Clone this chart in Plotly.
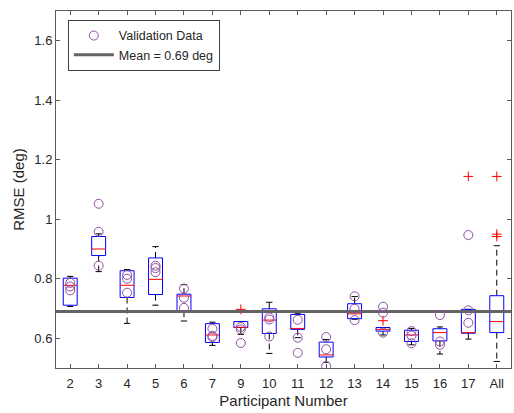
import plotly.graph_objects as go

labels = ["2", "3", "4", "5", "6", "7", "9", "10", "11", "12", "13", "14", "15", "16", "17", "All"]
q1 = [0.711, 0.878, 0.737, 0.747, 0.691, 0.586, 0.636, 0.616, 0.630, 0.537, 0.666, 0.624, 0.589, 0.591, 0.617, 0.619]
median = [0.778, 0.900, 0.778, 0.798, 0.742, 0.611, 0.637, 0.661, 0.633, 0.544, 0.682, 0.630, 0.611, 0.619, 0.619, 0.656]
q3 = [0.802, 0.942, 0.827, 0.870, 0.748, 0.649, 0.656, 0.699, 0.680, 0.587, 0.716, 0.636, 0.627, 0.632, 0.697, 0.743]
whisker_hi = [0.808, 0.951, 0.831, 0.908, 0.780, 0.654, 0.656, 0.721, 0.684, 0.596, 0.740, 0.636, 0.633, 0.638, 0.697, 0.911]
whisker_lo = [0.707, 0.824, 0.650, 0.711, 0.658, 0.576, 0.613, 0.549, 0.602, 0.519, 0.664, 0.611, 0.578, 0.547, 0.597, 0.522]
outliers = {"9": [0.697], "14": [0.659], "17": [1.144], "All": [1.144, 0.950, 0.942]}
validation = {
    "2": [0.786, 0.774, 0.761],
    "3": [1.052, 0.958, 0.844],
    "4": [0.813, 0.800, 0.753],
    "5": [0.844, 0.836, 0.822],
    "6": [0.767, 0.736, 0.702],
    "7": [0.632, 0.608, 0.604],
    "9": [0.638, 0.630, 0.584],
    "10": [0.670, 0.663, 0.606],
    "11": [0.662, 0.602, 0.551],
    "12": [0.604, 0.563, 0.506],
    "13": [0.741, 0.699, 0.661],
    "14": [0.706, 0.686, 0.619],
    "15": [0.624, 0.609, 0.583],
    "16": [0.678, 0.589, 0.578],
    "17": [0.947, 0.694, 0.652],
}
mean_value = 0.69

BW = 0.245
CW = 0.11
pos = list(range(1, len(labels) + 1))

bx, by, mx, my, wx, wy, cx, cy = [], [], [], [], [], [], [], []
for i, p in enumerate(pos):
    bx += [p - BW, p + BW, p + BW, p - BW, p - BW, None]
    by += [q1[i], q1[i], q3[i], q3[i], q1[i], None]
    mx += [p - BW, p + BW, None]
    my += [median[i], median[i], None]
    wx += [p, p, None, p, p, None]
    wy += [q3[i], whisker_hi[i], None, q1[i], whisker_lo[i], None]
    cx += [p - CW, p + CW, None, p - CW, p + CW, None]
    cy += [whisker_hi[i], whisker_hi[i], None, whisker_lo[i], whisker_lo[i], None]

ox, oy = [], []
for k, vals in outliers.items():
    p = pos[labels.index(k)]
    ox += [p] * len(vals)
    oy += vals

vx, vy = [], []
for k, vals in validation.items():
    p = pos[labels.index(k)]
    vx += [p] * len(vals)
    vy += vals

fig = go.Figure()
fig.add_trace(go.Scatter(x=wx, y=wy, mode="lines", line=dict(color="black", width=1, dash="6px,4px"),
                         showlegend=False, hoverinfo="skip"))
fig.add_trace(go.Scatter(x=cx, y=cy, mode="lines", line=dict(color="black", width=1),
                         showlegend=False, hoverinfo="skip"))
fig.add_trace(go.Scatter(x=bx, y=by, mode="lines", line=dict(color="#0000FF", width=1),
                         showlegend=False, hoverinfo="skip"))
fig.add_trace(go.Scatter(x=mx, y=my, mode="lines", line=dict(color="#FF0000", width=1),
                         showlegend=False, hoverinfo="skip"))
fig.add_trace(go.Scatter(x=ox, y=oy, mode="markers",
                         marker=dict(symbol="cross-thin", size=7, line=dict(color="#FF0000", width=1)),
                         showlegend=False, hoverinfo="skip"))
xr = [0.5, len(labels) + 0.5]
fig.add_trace(go.Scatter(x=xr, y=[mean_value, mean_value], mode="lines",
                         line=dict(color="#646464", width=3),
                         name="Mean = %.2f deg" % mean_value, legendrank=2))
fig.add_trace(go.Scatter(x=vx, y=vy, mode="markers",
                         marker=dict(symbol="circle-open", size=9, color="#9050A0", line=dict(width=1)),
                         name="Validation Data", legendrank=1))

axis_common = dict(showline=True, linecolor="#5a5a5a", linewidth=1, mirror="ticks", ticks="inside",
                   ticklen=4, tickcolor="#5a5a5a", showgrid=False, zeroline=False,
                   tickfont=dict(family="Liberation Sans", size=13, color="#262626"))
fig.update_layout(
    width=514, height=413,
    margin=dict(l=56, r=3, t=11, b=45),
    paper_bgcolor="white", plot_bgcolor="white",
    font=dict(family="Liberation Sans", size=12, color="#262626"),
    xaxis=dict(range=xr, tickvals=pos, ticktext=labels, ticklabelstandoff=3,
               title=dict(text="Participant Number", font=dict(size=15), standoff=5), **axis_common),
    yaxis=dict(range=[0.5, 1.7], tickvals=[0.6, 0.8, 1.0, 1.2, 1.4, 1.6],
               ticktext=["0.6", "0.8", "1", "1.2", "1.4", "1.6"],
               title=dict(text="RMSE (deg)", font=dict(size=15), standoff=6), **axis_common),
    legend=dict(x=0.026, y=0.975, xanchor="left", yanchor="top", bgcolor="white",
                bordercolor="#404040", borderwidth=1, font=dict(size=12.5), tracegroupgap=0,
                itemwidth=40),
    showlegend=True,
)
fig.write_html("out.html")
